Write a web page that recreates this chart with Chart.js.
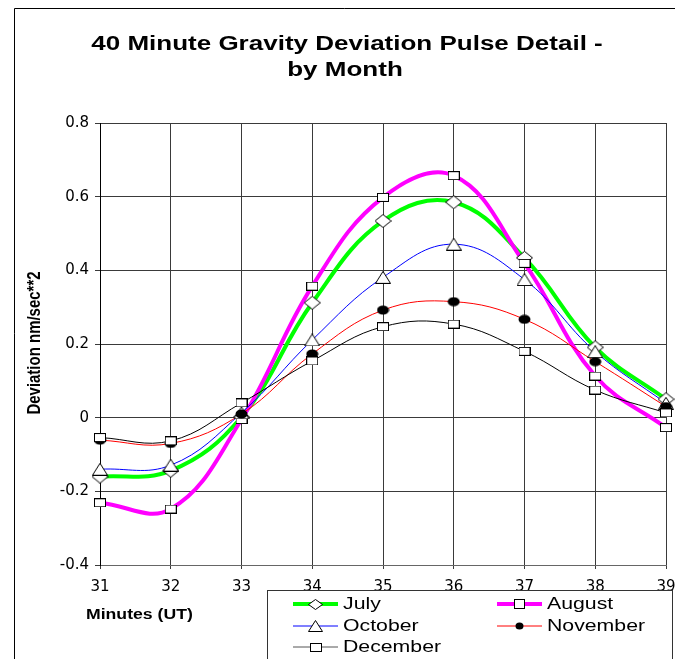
<!DOCTYPE html>
<html lang="en">
<head>
<meta charset="UTF-8">
<title>40 Minute Gravity Deviation Pulse Detail - by Month</title>
<script src="https://cdn.jsdelivr.net/npm/chart.js"></script>
<style>
  html, body { margin: 0; padding: 0; background: #fff; }
  canvas { display: block; }
</style>
</head>
<body>
<canvas id="chart" width="675" height="659"></canvas>
<script>
// minutes past the hour (UT) and the mean deviation for each month
const minutes = [31, 32, 33, 34, 35, 36, 37, 38, 39];
const july     = [-0.160, -0.144, 0.002, 0.312, 0.534, 0.585, 0.434, 0.191, 0.050];
const august   = [-0.231, -0.248, -0.005, 0.357, 0.598, 0.657, 0.419, 0.113, -0.027];
const october  = [-0.140, -0.129, 0.013, 0.211, 0.381, 0.471, 0.375, 0.179, 0.039];
const november = [-0.061, -0.070, 0.010, 0.173, 0.292, 0.315, 0.267, 0.152, 0.030];
const december = [-0.054, -0.063, 0.040, 0.154, 0.247, 0.254, 0.180, 0.075, 0.013];

const xTickValues = [31, 32, 33, 34, 35, 36, 37, 38, 39];
const xTickLabels = ['31', '32', '33', '34', '35', '36', '37', '38', '39'];
const yTickValues = [-0.4, -0.2, 0, 0.2, 0.4, 0.6, 0.8];
const yTickLabels = ['-0.4', '-0.2', '0', '0.2', '0.4', '0.6', '0.8'];

const FONT = '"Liberation Sans", Arial, sans-serif';

// small canvases used as point markers (a bit wider than tall)
function makeMarker(w, h, draw) {
    const c = document.createElement('canvas');
    c.width = w;
    c.height = h;
    const g = c.getContext('2d');
    g.lineWidth = 1;
    g.strokeStyle = '#000';
    g.fillStyle = '#fff';
    draw(g, w, h);
    return c;
}
const diamond = (w, h) => makeMarker(w, h, (g) => {
    g.beginPath();
    g.moveTo(w / 2, 0.5); g.lineTo(w - 0.5, h / 2); g.lineTo(w / 2, h - 0.5); g.lineTo(0.5, h / 2);
    g.closePath(); g.fill(); g.stroke();
});
const square = (w, h) => makeMarker(w, h, (g) => {
    g.fillRect(0.5, 0.5, w - 1, h - 1);
    g.strokeRect(0.5, 0.5, w - 1, h - 1);
});
const triangle = (w, h) => makeMarker(w, h, (g) => {
    g.beginPath();
    g.moveTo(w / 2, 0.5); g.lineTo(w - 0.5, h - 0.5); g.lineTo(0.5, h - 0.5);
    g.closePath(); g.fill(); g.stroke();
});
const dot = (w, h) => makeMarker(w, h, (g) => {
    g.beginPath();
    g.ellipse(w / 2, h / 2, w / 2 - 0.5, h / 2 - 0.5, 0, 0, Math.PI * 2);
    g.fillStyle = '#000'; g.fill();
});

const series = [
    { label: 'July',     values: july,     color: '#00ff00', width: 4, marker: diamond(17, 14), key: diamond(15, 11) },
    { label: 'August',   values: august,   color: '#ff00ff', width: 4, marker: square(12, 9),   key: square(11, 10) },
    { label: 'October',  values: october,  color: '#0000ff', width: 1, marker: triangle(16, 13), key: triangle(15, 12) },
    { label: 'November', values: november, color: '#ff0000', width: 1, marker: dot(13, 10),     key: dot(9, 8) },
    { label: 'December', values: december, color: '#000000', width: 1, marker: square(12, 9),   key: square(12, 9) }
];

// lines first (later months on top), then the markers above every line
const datasets = [];
series.forEach((s, i) => {
    const pts = minutes.map((m, j) => ({ x: m, y: s.values[j] }));
    datasets.push({
        label: s.label,
        data: pts,
        borderColor: s.color,
        borderWidth: s.width,
        pointRadius: 0,
        tension: 0.4,
        fill: false,
        clip: false,
        order: 20 - i
    });
    datasets.push({
        label: s.label + ' markers',
        data: pts,
        showLine: false,
        pointStyle: s.marker,
        pointRadius: 8,
        clip: false,
        order: 10 - i
    });
});

function wideText(ctx, text, x, y, font, sx, align) {
    ctx.save();
    ctx.translate(x, y);
    ctx.scale(sx, 1);
    ctx.font = font;
    ctx.textAlign = align;
    ctx.textBaseline = 'middle';
    ctx.fillStyle = '#000';
    ctx.fillText(text, 0, 0);
    ctx.restore();
}

const decorations = {
    id: 'decorations',
    beforeDraw(chart) {
        const ctx = chart.ctx;
        ctx.save();
        ctx.fillStyle = '#fff';
        ctx.fillRect(0, 0, chart.width, chart.height);
        ctx.strokeStyle = '#000';
        ctx.lineWidth = 1;
        ctx.beginPath();
        ctx.moveTo(14.5, chart.height);
        ctx.lineTo(14.5, 8.5);
        ctx.lineTo(chart.width, 8.5);
        ctx.stroke();
        ctx.restore();
    },
    afterDraw(chart) {
        const ctx = chart.ctx;
        // title
        wideText(ctx, '40 Minute Gravity Deviation Pulse Detail -', 347, 44, 'bold 20px ' + FONT, 1.3, 'center');
        wideText(ctx, 'by Month', 345, 70, 'bold 20px ' + FONT, 1.3, 'center');
        // axis titles
        wideText(ctx, 'Minutes (UT)', 86, 615, 'bold 14px ' + FONT, 1.26, 'left');
        ctx.save();
        ctx.translate(35, 343);
        ctx.rotate(-Math.PI / 2);
        ctx.scale(1.07, 1.25);
        ctx.font = 'bold 14px ' + FONT;
        ctx.textAlign = 'center';
        ctx.textBaseline = 'middle';
        ctx.fillStyle = '#000';
        ctx.fillText('Deviation nm/sec**2', 0, 0);
        ctx.restore();

        // legend box
        ctx.save();
        ctx.fillStyle = '#fff';
        ctx.strokeStyle = '#333';
        ctx.lineWidth = 1;
        ctx.fillRect(267.5, 590.5, 420, 100);
        ctx.strokeRect(267.5, 590.5, 405, 100);
        ctx.restore();

        const cols = [293, 497];
        const rows = [604, 626, 647];
        series.forEach((s, i) => {
            const x = cols[i % 2];
            const y = rows[Math.floor(i / 2)];
            ctx.save();
            ctx.strokeStyle = s.color === '#000000' ? '#555' : s.color;
            ctx.lineWidth = s.width;
            ctx.beginPath();
            ctx.moveTo(x, y);
            ctx.lineTo(x + 45, y);
            ctx.stroke();
            ctx.drawImage(s.key, Math.round(x + 22.5 - s.key.width / 2), Math.round(y - s.key.height / 2));
            ctx.restore();
            wideText(ctx, s.label, x + 50, y, '17px ' + FONT, 1.25, 'left');
        });
    }
};

new Chart(document.getElementById('chart'), {
    type: 'line',
    data: { datasets },
    options: {
        responsive: false,
        animation: false,
        layout: { padding: { top: 123, right: 6, left: 0, bottom: 0 } },
        plugins: {
            legend: { display: false },
            title: { display: false },
            tooltip: { enabled: false }
        },
        scales: {
            x: {
                type: 'linear',
                min: 31,
                max: 39,
                afterBuildTicks: (s) => { s.ticks = xTickValues.map(v => ({ value: v })); },
                afterFit: (s) => { s.height = 94; s.paddingLeft = 0; s.paddingRight = 0; },
                ticks: {
                    callback: (v, i) => xTickLabels[i],
                    color: '#000',
                    padding: 9,
                    maxRotation: 0,
                    font: { family: '"DejaVu Sans"', size: 15 }
                },
                grid: { color: '#3a3a3a', lineWidth: 1, tickLength: 4 },
                border: { color: '#666', width: 1 }
            },
            y: {
                min: -0.4,
                max: 0.8,
                afterBuildTicks: (s) => { s.ticks = yTickValues.map(v => ({ value: v })); },
                afterFit: (s) => { s.width = 100; s.paddingTop = 0; s.paddingBottom = 0; },
                ticks: {
                    callback: (v, i) => yTickLabels[i],
                    color: '#000',
                    padding: 6,
                    font: { family: '"DejaVu Sans"', size: 15 }
                },
                grid: { color: '#3a3a3a', lineWidth: 1, tickLength: 5 },
                border: { color: '#000', width: 1 }
            }
        }
    },
    plugins: [decorations]
});
</script>
</body>
</html>
